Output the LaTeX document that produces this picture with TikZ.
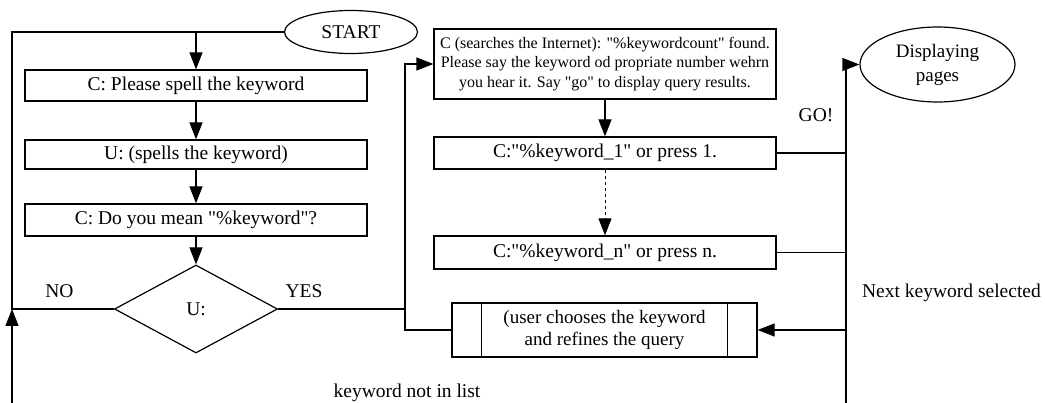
\documentclass[tikz,border=0pt]{standalone}
\usepackage{fontspec}
\setmainfont{Liberation Serif}
\usetikzlibrary{arrows.meta,shapes.geometric,calc}
\newcommand{\dq}{\textquotedbl}
\begin{document}
\begin{tikzpicture}[x=1pt,y=-1pt,
  line width=1.2pt,
  font=\fontsize{19.5}{23}\selectfont,
  arr/.style={-{Triangle[length=17pt,width=13pt]}},
  proc/.style={draw,rectangle,inner sep=0pt,minimum width=342pt,align=center},
  term/.style={draw,ellipse,inner sep=0pt,align=center},
  decide/.style={draw,diamond,inner sep=0pt,minimum width=163pt,minimum height=88pt},
  lbl/.style={anchor=base,inner sep=0pt}]
\useasboundingbox (0,0) rectangle (1045,403);

% left column
\node[term,minimum width=133pt,minimum height=43pt] (start) at (351,32) {START};
\node[proc,minimum height=31pt] (b1) at (196,85.5) {C: Please spell the keyword};
\node[proc,minimum height=29pt] (b2) at (196,154.5) {U: (spells the keyword)};
\node[proc,minimum height=32pt] (b3) at (196,220) {C: Do you mean \dq\%keyword\dq?};
\node[decide] (dia) at (196,309) {U:};

% right column
\node[proc,minimum height=70pt,font=\fontsize{16}{19.5}\selectfont] (big) at (605,64)
  {C (searches the Internet): \dq\%keywordcount\dq{} found.\\
   Please say the keyword od propriate number wehrn\\
   you hear it. Say \dq go\dq{} to display query results.};
\node[proc,minimum height=32pt] (k1) at (605,153) {C:\dq\%keyword\_1\dq{} or press 1.};
\node[proc,minimum height=33pt] (kn) at (605,252.5) {C:\dq\%keyword\_n\dq{} or press n.};
\node[draw,rectangle,inner sep=0pt,minimum width=305pt,minimum height=54pt,align=center,
  font=\fontsize{19}{22}\selectfont] (sub) at (604.5,330)
  {(user chooses the keyword\\and refines the query};
\draw ($(sub.north west)+(30,0)$) -- ($(sub.south west)+(30,0)$);
\draw ($(sub.north east)+(-30,0)$) -- ($(sub.south east)+(-30,0)$);
\node[term,minimum width=155pt,minimum height=75pt,font=\fontsize{19}{24}\selectfont]
  (disp) at (937.5,64.5) {Displaying\\pages};

% junction points
\coordinate (lx) at (12,32);
\coordinate (lb) at (12,403);
\coordinate (yj) at (405,309);
\coordinate (rb) at (846,403);

% connectors
\draw[arr] (start.west) -| (b1.north);
\draw[arr] (b1) -- (b2);
\draw[arr] (b2) -- (b3);
\draw[arr] (b3) -- (dia);
\draw (dia.west) -| (lx) -- (b1.north |- lx);
\draw[arr] (lb) -- (lb |- dia.west);
\draw (dia.east) -- (yj);
\draw[arr] (sub.west) -| (yj) |- (big.west);
\draw[arr] (big) -- (k1);
\draw[arr,line width=0.9pt,dash pattern=on 3pt off 3pt] (k1) -- (kn);
\draw (k1.east) -- (k1.east -| rb);
\draw (kn.east) -- (kn.east -| rb);
\draw[arr] (rb) |- (disp.west);
\draw[arr] (sub.east -| rb) -- (sub.east);

% labels
\node[lbl] (lno) at (59.5,298) {NO};
\node[lbl] (lyes) at (304,298) {YES};
\node[lbl] (lgo) at (816,122) {GO!};
\node[lbl] (lnext) at (951.5,298) {Next keyword selected};
\node[lbl] (lnot) at (407,398) {keyword not in list};
\end{tikzpicture}
\end{document}
